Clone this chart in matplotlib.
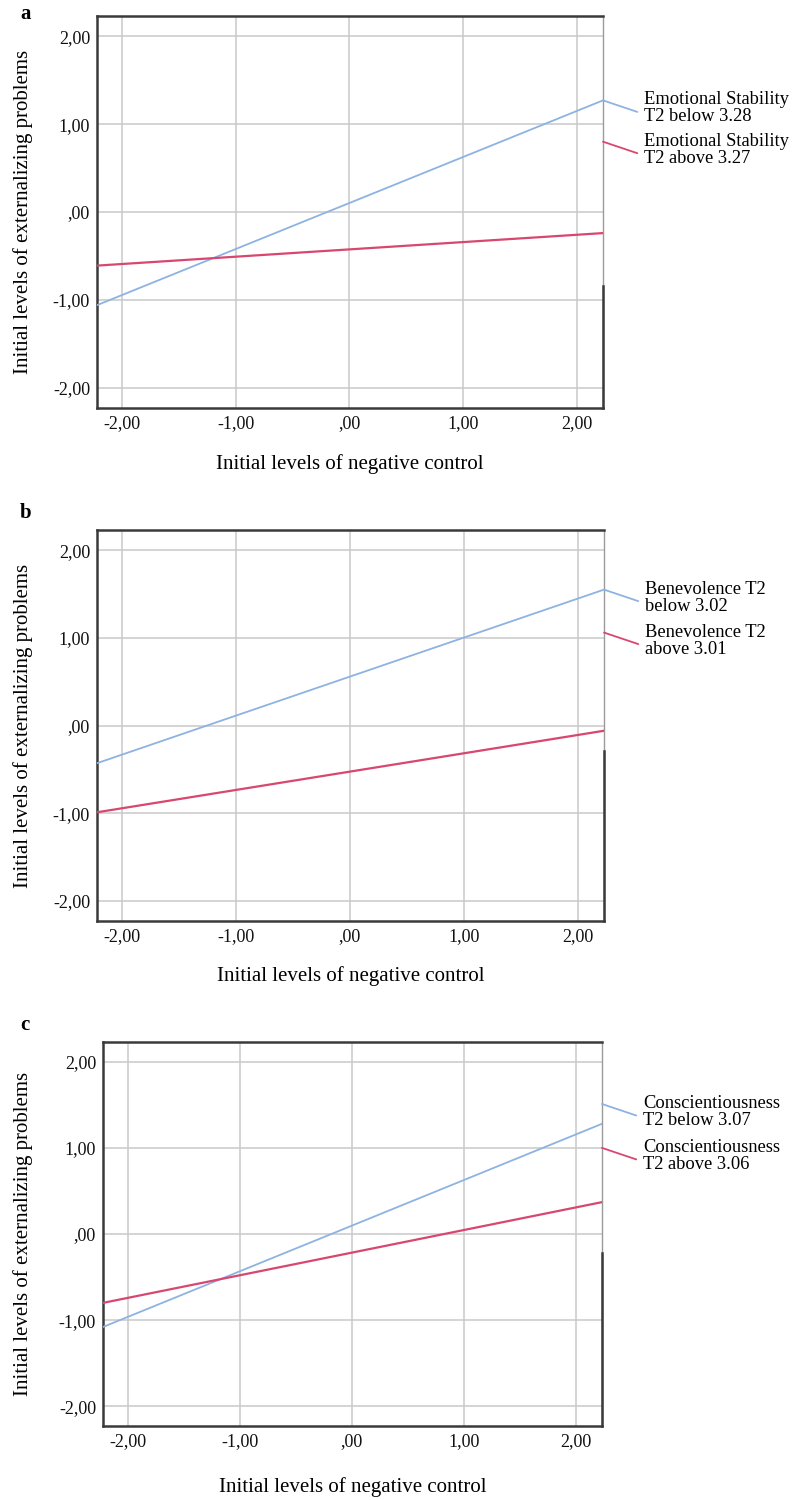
import matplotlib
matplotlib.use("Agg")
import matplotlib.pyplot as plt

plt.rcParams["font.family"] = ["Liberation Serif", "DejaVu Serif"]

# x range used for both simple-slope lines (low / high negative control)
x_ends = [-2.22, 2.23]

panel_letters = ["a", "b", "c"]

# line end values (left, right)
blue_a = [-1.06, 1.27]
red_a = [-0.61, -0.24]
blue_b = [-0.43, 1.55]
red_b = [-0.99, -0.06]
blue_c = [-1.08, 1.28]
red_c = [-0.80, 0.37]

labels_a = ["Emotional Stability\nT2 below 3.28", "Emotional Stability\nT2 above 3.27"]
labels_b = ["Benevolence T2\nbelow 3.02", "Benevolence T2\nabove 3.01"]
labels_c = ["Conscientiousness\nT2 below 3.07", "Conscientiousness\nT2 above 3.06"]

# where the label connectors leave the right frame (y value)
label_y_a = [1.27, 0.80]
label_y_b = [1.55, 1.06]
label_y_c = [1.51, 1.00]

ticks = [-2, -1, 0, 1, 2]
tick_labels = ["-2,00", "-1,00", ",00", "1,00", "2,00"]

xlabel = "Initial levels of negative control"
ylabel = "Initial levels of externalizing problems"

BLUE = "#8db3e2"
RED = "#d8476f"
GRID = "#c9c9c9"
FRAME = "#3a3a3a"

W, H = 805, 1500
# axes boxes in pixels: left, top, right, bottom
boxes = [(97, 16, 603, 408), (97, 530, 604, 921), (103, 1042, 602, 1426)]
xlabel_gap = [46, 45, 51]  # pixels from frame bottom to top of x label
letter_pos = [(20, 14), (20, 513), (20, 1025)]
dark_frac = [0.31, 0.435, 0.45]

panels = [
    (blue_a, red_a, labels_a, label_y_a),
    (blue_b, red_b, labels_b, label_y_b),
    (blue_c, red_c, labels_c, label_y_c),
]

fig = plt.figure(figsize=(W / 100, H / 100), dpi=100)

for i, (blue, red, labs, laby) in enumerate(panels):
    l, t, r, b = boxes[i]
    ax = fig.add_axes([l / W, 1 - b / H, (r - l) / W, (b - t) / H])
    ax.set_xlim(x_ends)
    ax.set_ylim(-2.23, 2.23)
    ax.set_xticks(ticks)
    ax.set_xticklabels(tick_labels)
    ax.set_yticks(ticks)
    ax.set_yticklabels(tick_labels)
    ax.tick_params(length=0, labelsize=13, pad=5, colors="#111111")
    ax.grid(True, color=GRID, linewidth=1.1)
    ax.set_axisbelow(True)

    for side in ["left", "top", "bottom"]:
        ax.spines[side].set_color(FRAME)
        ax.spines[side].set_linewidth(1.8)
    ax.spines["right"].set_color("#9a9a9a")
    ax.spines["right"].set_linewidth(1.0)
    ax.plot([1, 1], [0, dark_frac[i]], transform=ax.transAxes,
            color=FRAME, linewidth=1.8, clip_on=False, zorder=5)

    ax.plot(x_ends, blue, color=BLUE, linewidth=1.3, zorder=3)
    ax.plot(x_ends, red, color=RED, linewidth=1.6, zorder=3)

    for lab, y0, col in zip(labs, laby, [BLUE, RED]):
        ax.annotate(lab, xy=(x_ends[1], y0), xycoords="data",
                    xytext=(41, -8), textcoords="offset pixels",
                    ha="left", va="center", fontsize=13.3, linespacing=1.0,
                    annotation_clip=False,
                    arrowprops=dict(arrowstyle="-", color=col, linewidth=1.3,
                                    shrinkA=3, shrinkB=0, relpos=(0, 0.33)))

    ax.set_xlabel(xlabel, fontsize=15)
    ax.xaxis.set_label_coords(0.5, -xlabel_gap[i] / (b - t))
    ax.set_ylabel(ylabel, fontsize=15)
    ax.yaxis.set_label_coords((33 - l) / (r - l), 0.5)

    fig.text(letter_pos[i][0] / W, 1 - letter_pos[i][1] / H, panel_letters[i],
             fontsize=15, fontweight="bold", va="center", ha="left")

fig.savefig("out.png", dpi=100)
